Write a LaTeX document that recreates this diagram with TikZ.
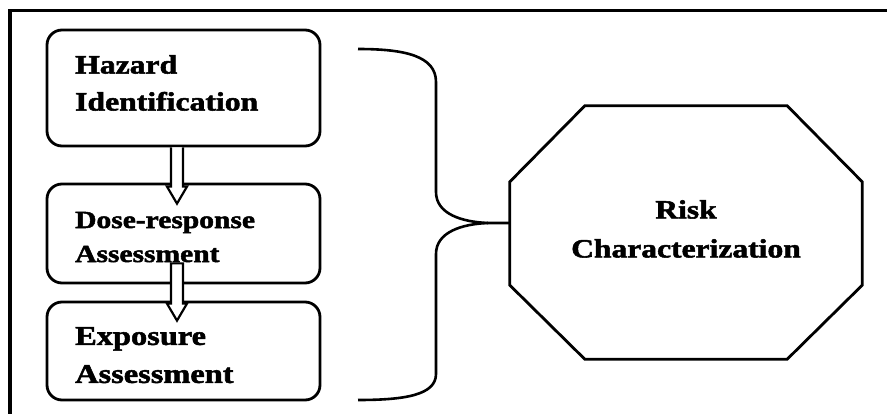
\documentclass[tikz,border=0pt]{standalone}
\usepackage{fontspec}
\setmainfont{Liberation Serif}[FakeStretch=1.2, BoldFeatures={FakeBold=2}]
\usetikzlibrary{calc}
\tikzset{
  stagebox/.style={draw, line width=2.8pt, rounded corners=15pt, minimum width=273pt, inner sep=0pt},
  lbl/.style={inner sep=0pt, align=left, anchor=north west, font=\bfseries},
  hollow/.style={draw, fill=white, line width=2.2pt, line join=miter},
  bracket/.style={draw, line width=2.6pt},
  frameline/.style={draw, line width=3.6pt}
}
\begin{document}
\begin{tikzpicture}[x=1pt, y=-1pt]
  \useasboundingbox (0,0) rectangle (887,414);
  % open frame (top and left edges)
  \draw[frameline] (10,414) -- (10,10.5) -- (887,10.5);

  % the three assessment stages
  \node[stagebox, minimum height=116pt] (haz)  at (183.5,88)  {};
  \node[stagebox, minimum height=99pt]  (dose) at (183.5,233.5) {};
  \node[stagebox, minimum height=98pt]  (expo) at (183.5,351) {};

  \node[lbl, font=\bfseries\fontsize{26.4}{37}\selectfont] (hazt) at (75,55) {Hazard\\Identification};
  \node[lbl, font=\bfseries\fontsize{24.6}{34}\selectfont] (doset) at (75,211.7) {Dose-response\\Assessment};
  \node[lbl, font=\bfseries\fontsize{27}{38}\selectfont] (expot) at (75,327) {Exposure\\Assessment};

  % hollow block arrows between the stages
  \coordinate (a1s) at ($(haz.south)+(-6.5,0)$);
  \coordinate (a1t) at ($(dose.north)+(-6.5,21)$);
  \draw[hollow] let \p1=(a1s), \p2=(a1t) in
    (\x1-6pt,\y1) -- (\x1-6pt,\y2+17pt) -- (\x1-10pt,\y2+17pt) -- (\x2,\y2)
    -- (\x1+10pt,\y2+17pt) -- (\x1+6pt,\y2+17pt) -- (\x1+6pt,\y1);
  \coordinate (a2s) at ($(dose.south)+(-6.5,-21)$);
  \coordinate (a2t) at ($(expo.north)+(-6.5,20)$);
  \draw[hollow] let \p1=(a2s), \p2=(a2t) in
    (\x1-6pt,\y1) -- (\x1-6pt,\y2+17pt) -- (\x1-10pt,\y2+17pt) -- (\x2,\y2)
    -- (\x1+10pt,\y2+17pt) -- (\x1+6pt,\y2+17pt) -- (\x1+6pt,\y1) -- cycle;

  % risk characterization octagon
  \node[minimum width=352pt, minimum height=253pt, inner sep=0pt] (risk) at (686,232.5) {};
  \draw[line width=2.8pt, line join=miter]
    ($(risk.north west)+(75,0)$) -- ($(risk.north east)+(-75,0)$)
    -- ($(risk.north east)+(0,76)$) -- ($(risk.south east)+(0,-74)$)
    -- ($(risk.south east)+(-75,0)$) -- ($(risk.south west)+(75,0)$)
    -- ($(risk.south west)+(0,-74)$) -- ($(risk.north west)+(0,76)$) -- cycle;
  \node[inner sep=0pt, align=center, anchor=north, font=\bfseries\fontsize{26.3}{39}\selectfont] (riskt) at (686,200) {Risk\\Characterization};

  % curly bracket gathering the stages
  \coordinate (bt) at (358,49);
  \coordinate (bm) at (488,223);
  \coordinate (bb) at (358,400);
  \draw[bracket] (bt) .. controls (405,49) and (436,56) .. (436,82) -- (436,192)
    .. controls (436,214) and (462,222) .. (bm) -- (risk.west |- bm);
  \draw[bracket] (bm) .. controls (462,224) and (436,232) .. (436,254) -- (436,374)
    .. controls (436,395) and (405,400) .. (bb);
\end{tikzpicture}
\end{document}
